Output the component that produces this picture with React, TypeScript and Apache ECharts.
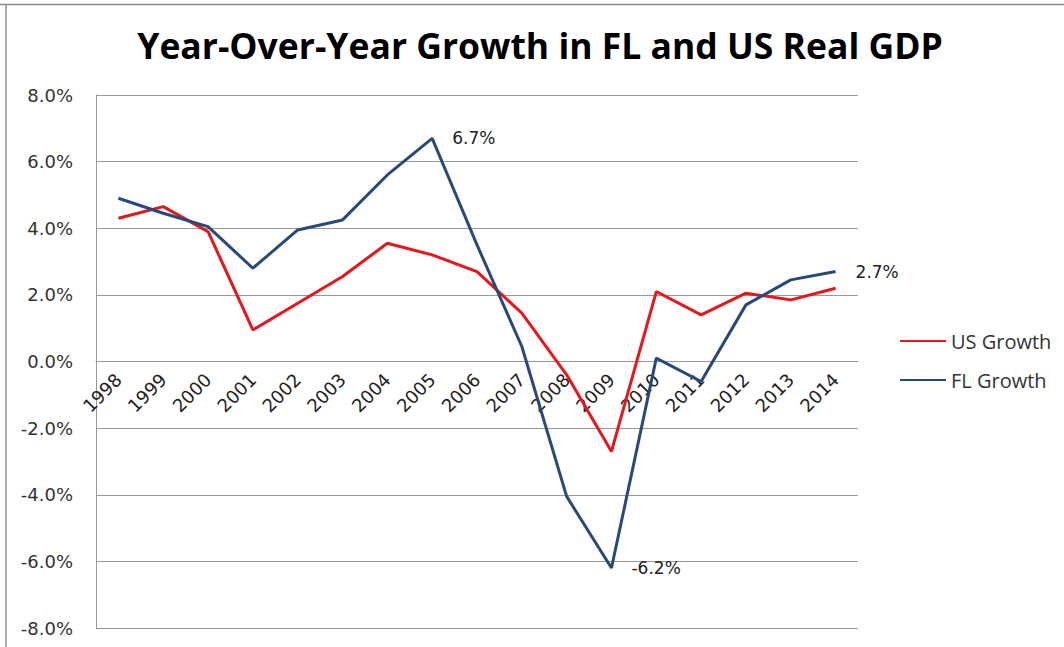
import React, { useEffect, useRef } from "react";
import * as echarts from "echarts";

const years = ["1998","1999","2000","2001","2002","2003","2004","2005","2006","2007","2008","2009","2010","2011","2012","2013","2014"];
const usGrowth = [4.3, 4.65, 3.9, 0.95, 1.75, 2.55, 3.55, 3.2, 2.7, 1.45, -0.4, -2.7, 2.1, 1.4, 2.05, 1.85, 2.2];
const flGrowth = [4.9, 4.45, 4.05, 2.8, 3.95, 4.25, 5.6, 6.7, 3.5, 0.45, -4.05, -6.2, 0.1, -0.6, 1.7, 2.45, 2.7];
const labelledIdx = [7, 11, 16];
const yTicks = { min: -8, max: 8, step: 2 };

const FONT = "'Open Sans', sans-serif";
const NUMFONT = "'DejaVu Sans', sans-serif";

export default function App() {
  const ref = useRef<HTMLDivElement>(null);
  useEffect(() => {
    document.body.style.margin = "0";
    const chart = echarts.init(ref.current!, null, { renderer: "svg" });
    chart.setOption({
      animation: false,
      backgroundColor: "#ffffff",
      title: {
        text: "Year-Over-Year Growth in FL and US Real GDP",
        left: 535,
        textAlign: "center",
        top: 22,
        textStyle: { fontFamily: FONT, fontWeight: "bold", fontSize: 35.5, color: "#000" },
      },
      graphic: [
        { type: "line", shape: { x1: 0, y1: 4.5, x2: 1064, y2: 4.5 }, style: { stroke: "#8c8c8c", lineWidth: 1.5 } },
        { type: "line", shape: { x1: 6, y1: 4, x2: 6, y2: 647 }, style: { stroke: "#8c8c8c", lineWidth: 1.5 } },
      ],
      legend: {
        orient: "vertical",
        left: 895,
        top: 326,
        itemWidth: 46,
        itemHeight: 14,
        itemGap: 19,
        icon: "path://M0,6 L46,6 L46,8 L0,8 Z",
        textStyle: { fontFamily: FONT, fontSize: 20, color: "#333" },
        data: ["US Growth", "FL Growth"],
      },
      grid: { left: 96, right: 206, top: 95, bottom: 19, containLabel: false, outerBoundsMode: "none" },
      xAxis: {
        type: "category",
        data: years,
        boundaryGap: true,
        position: "bottom",
        offset: -266.5,
        axisLine: { show: true, onZero: false, lineStyle: { color: "#999999", width: 1 } },
        axisTick: { show: false },
        axisLabel: { rotate: 45, margin: 15, fontFamily: NUMFONT, fontSize: 18, color: "#222", interval: 0 },
        splitLine: { show: false },
      },
      yAxis: {
        type: "value",
        min: yTicks.min,
        max: yTicks.max,
        interval: yTicks.step,
        axisLine: { show: true, lineStyle: { color: "#999999", width: 1 } },
        axisTick: { show: false },
        axisLabel: {
          margin: 23,
          fontFamily: NUMFONT,
          fontSize: 18,
          color: "#333",
          formatter: (v: number) => v.toFixed(1) + "%",
        },
        splitLine: { show: true, lineStyle: { color: "#999999", width: 1 } },
      },
      series: [
        {
          name: "US Growth",
          type: "line",
          data: usGrowth,
          symbol: "none",
          z: 3,
          lineStyle: { color: "#e8161b", width: 3 },
          itemStyle: { color: "#e8161b" },
        },
        {
          name: "FL Growth",
          type: "line",
          data: flGrowth,
          symbol: "none",
          z: 3,
          lineStyle: { color: "#284a78", width: 3 },
          itemStyle: { color: "#284a78" },
          markPoint: {
            symbol: "circle",
            symbolSize: 0,
            label: {
              show: true,
              position: "right",
              distance: 20,
              fontFamily: NUMFONT,
              fontSize: 17,
              color: "#222",
              formatter: (p: any) => p.value.toFixed(1) + "%",
            },
            data: labelledIdx.map((i) => ({ coord: [i, flGrowth[i]], value: flGrowth[i] })),
          },
        },
      ],
    });
    return () => chart.dispose();
  }, []);
  return <div ref={ref} style={{ width: 1064, height: 647 }} />;
}
